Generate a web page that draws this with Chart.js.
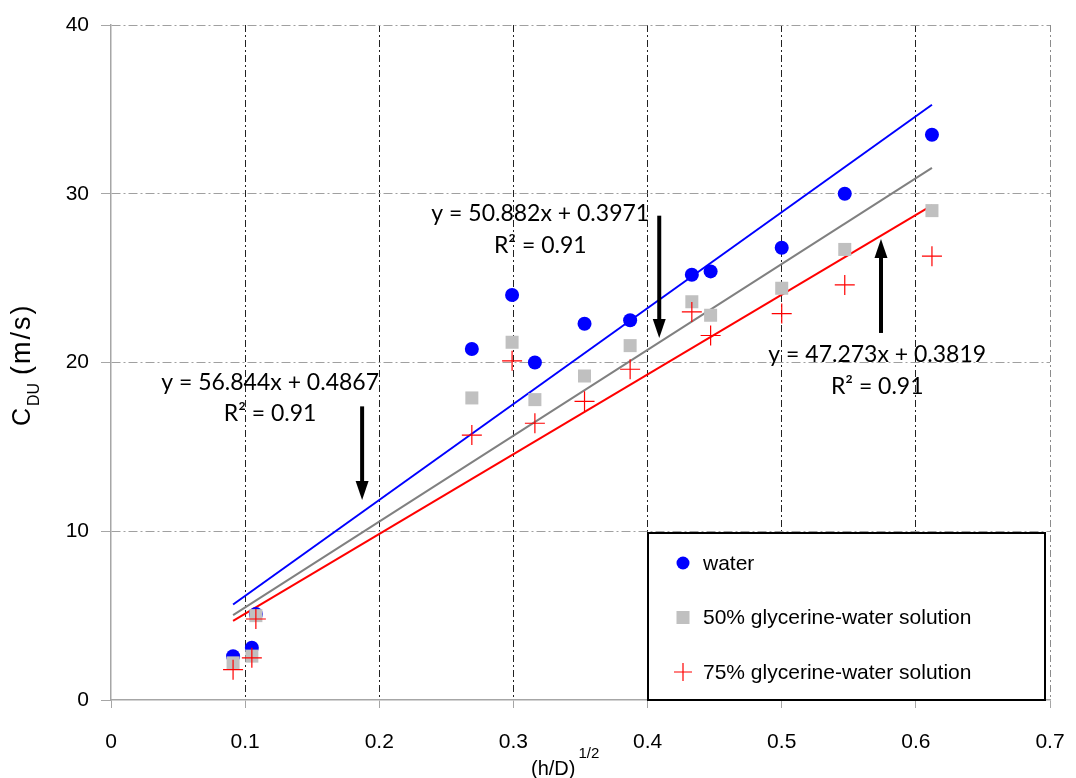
<!DOCTYPE html>
<html lang="en">
<head>
    <meta charset="UTF-8">
    <title>C_DU vs (h/D)^1/2</title>
    <script src="https://cdn.jsdelivr.net/npm/chart.js"></script>
    <style>
        html, body { margin: 0; padding: 0; background: #fff; }
        #wrap { width: 1076px; height: 778px; }
    </style>
</head>
<body>
<div id="wrap"><canvas id="chart" width="1076" height="778"></canvas></div>
<script>
// (h/D)^1/2 values shared by the three series
const sqrtHD = [0.091, 0.105, 0.108, 0.269, 0.299, 0.316, 0.353, 0.387, 0.433, 0.447, 0.500, 0.547, 0.612];
const water = [2.6, 3.1, 5.1, 20.8, 24.0, 20.0, 22.3, 22.5, 25.2, 25.4, 26.8, 30.0, 33.5];
const glyc50 = [2.2, 2.6, 5.0, 17.9, 21.2, 17.8, 19.2, 21.0, 23.6, 22.8, 24.4, 26.7, 29.0];
const glyc75 = [1.8, 2.5, 4.8, 15.7, 20.1, 16.4, 17.7, 19.6, 23.0, 21.6, 22.9, 24.6, 26.3];

const seriesNames = ["water", "50% glycerine-water solution", "75% glycerine-water solution"];
const trendSlopes = [56.844, 50.882, 47.273];
const trendIntercepts = [0.4867, 0.3971, 0.3819];
const trendR2 = ["0.91", "0.91", "0.91"];

const xTicks = [0, 0.1, 0.2, 0.3, 0.4, 0.5, 0.6, 0.7];
const yTicks = [0, 10, 20, 30, 40];

const colors = ["#0000ff", "#c0c0c0", "#ff0000"];
const lineColors = ["#0000ff", "#808080", "#ff0000"];

const toPoints = (ys) => sqrtHD.map((x, i) => ({ x, y: ys[i] }));
const xMin = Math.min(...sqrtHD), xMax = Math.max(...sqrtHD);
const trendPoints = (k) => [xMin, xMax].map(x => ({ x, y: trendSlopes[k] * x + trendIntercepts[k] }));

const AXIS_GRAY = "#a6a6a6";
const ARIAL = "'Liberation Sans', Arial, sans-serif";
const EQ_FONT = "Lato, 'Open Sans', sans-serif";

// equation labels and arrows, anchored in data coordinates
const equationSpots = [
    { x: 0.1186, y: 18.8, r2y: 16.95, arrow: [0.1872, 17.4, 11.85] },
    { x: 0.320, y: 28.8, r2y: 26.95, arrow: [0.4087, 28.7, 21.45] },
    { x: 0.5712, y: 20.45, r2y: 18.6, arrow: [0.574, 21.75, 27.32] },
];

const drawArrow = (ctx, x, y1, y2) => {
    const dir = y2 > y1 ? 1 : -1;
    const headLen = 19, headHalf = 6.5;
    ctx.save();
    ctx.strokeStyle = "#000";
    ctx.fillStyle = "#000";
    ctx.lineWidth = 4;
    ctx.beginPath();
    ctx.moveTo(x, y1);
    ctx.lineTo(x, y2 - dir * headLen);
    ctx.stroke();
    ctx.beginPath();
    ctx.moveTo(x, y2);
    ctx.lineTo(x - headHalf, y2 - dir * headLen);
    ctx.lineTo(x + headHalf, y2 - dir * headLen);
    ctx.closePath();
    ctx.fill();
    ctx.restore();
};

const extrasPlugin = {
    id: "extras",
    afterDraw(chart) {
        const { ctx, scales: { x, y } } = chart;

        // equations + arrows
        ctx.save();
        ctx.fillStyle = "#000";
        ctx.textAlign = "center";
        ctx.textBaseline = "middle";
        ctx.font = "23px " + EQ_FONT;
        equationSpots.forEach((s, k) => {
            const eq = `y = ${trendSlopes[k]}x + ${trendIntercepts[k]}`;
            ctx.fillText(eq, x.getPixelForValue(s.x), y.getPixelForValue(s.y));
            ctx.fillText(`R² = ${trendR2[k]}`, x.getPixelForValue(s.x), y.getPixelForValue(s.r2y));
            const [ax, ay1, ay2] = s.arrow;
            drawArrow(ctx, x.getPixelForValue(ax), y.getPixelForValue(ay1), y.getPixelForValue(ay2));
        });
        ctx.restore();

        // legend box
        const lx = 648, ly = 533, lw = 397, lh = 167;
        ctx.save();
        ctx.fillStyle = "#fff";
        ctx.fillRect(lx, ly, lw, lh);
        ctx.strokeStyle = "#000";
        ctx.lineWidth = 2;
        ctx.strokeRect(lx, ly, lw, lh);
        ctx.font = "21px " + ARIAL;
        ctx.textAlign = "left";
        ctx.textBaseline = "middle";
        seriesNames.forEach((name, i) => {
            const cy = ly + 30 + i * 54.5;
            const cx = lx + 35;
            if (i === 0) {
                ctx.fillStyle = colors[0];
                ctx.beginPath();
                ctx.arc(cx, cy, 6.5, 0, Math.PI * 2);
                ctx.fill();
            } else if (i === 1) {
                ctx.fillStyle = colors[1];
                ctx.fillRect(cx - 6.5, cy - 6.5, 13, 13);
            } else {
                ctx.strokeStyle = colors[2];
                ctx.lineWidth = 1.2;
                ctx.beginPath();
                ctx.moveTo(cx - 9, cy); ctx.lineTo(cx + 9, cy);
                ctx.moveTo(cx, cy - 9); ctx.lineTo(cx, cy + 9);
                ctx.stroke();
            }
            ctx.fillStyle = "#000";
            ctx.fillText(name, lx + 55, cy + 1);
        });
        ctx.restore();

        // x axis title with superscript
        ctx.save();
        ctx.fillStyle = "#000";
        ctx.textBaseline = "alphabetic";
        ctx.textAlign = "left";
        ctx.font = "20px " + ARIAL;
        const tx = 531, tyBase = 775;
        ctx.fillText("(h/D)", tx, tyBase);
        const w = ctx.measureText("(h/D)").width;
        ctx.font = "15px " + ARIAL;
        ctx.fillText("1/2", tx + w + 3, tyBase - 17);
        ctx.restore();

        // y axis title with subscript, rotated
        ctx.save();
        ctx.translate(30, 426);
        ctx.rotate(-Math.PI / 2);
        ctx.fillStyle = "#000";
        ctx.textBaseline = "alphabetic";
        ctx.textAlign = "left";
        ctx.font = "25px " + ARIAL;
        ctx.fillText("C", 0, 0);
        ctx.font = "16px " + ARIAL;
        ctx.fillText("DU", 20, 9);
        ctx.font = "27px " + ARIAL;
        ctx.letterSpacing = "2px";
        ctx.fillText("(m/s)", 51, 0);
        ctx.restore();
    }
};

const ctx = document.getElementById("chart").getContext("2d");
new Chart(ctx, {
    type: "scatter",
    data: {
        datasets: [
            {
                label: seriesNames[2], data: toPoints(glyc75), order: 0,
                pointStyle: "cross", pointRadius: 10, borderColor: colors[2], backgroundColor: colors[2],
                borderWidth: 1.2, pointHoverRadius: 10,
            },
            {
                label: seriesNames[1], data: toPoints(glyc50), order: 1,
                pointStyle: "rect", pointRadius: 9.2, borderWidth: 0, backgroundColor: colors[1], borderColor: colors[1],
            },
            {
                label: seriesNames[0], data: toPoints(water), order: 2,
                pointStyle: "circle", pointRadius: 7, borderWidth: 0, backgroundColor: colors[0], borderColor: colors[0],
            },
            ...[0, 1, 2].map(k => ({
                label: "trend " + seriesNames[k], data: trendPoints(k), order: 3,
                showLine: true, pointRadius: 0, borderColor: lineColors[k], borderWidth: 2, fill: false,
            })),
        ],
    },
    options: {
        responsive: false,
        devicePixelRatio: 1,
        animation: false,
        events: [],
        layout: { padding: { left: 0, top: 25, right: 26, bottom: 0 } },
        plugins: { legend: { display: false }, tooltip: { enabled: false } },
        scales: {
            x: {
                type: "linear", min: 0, max: 0.7,
                afterBuildTicks: (s) => { s.ticks = xTicks.map(v => ({ value: v })); },
                afterFit: (s) => { s.height = 78; s.paddingLeft = 0; s.paddingRight = 0; },
                ticks: {
                    color: "#000", padding: 22,
                    font: { family: ARIAL, size: 21 },
                    callback: (v) => String(v),
                },
                grid: {
                    color: (c) => c.tick && c.tick.value === 0 ? "rgba(0,0,0,0)" : (c.tick && c.tick.value === 0.7 ? "#8c8c8c" : "#222"),
                    lineWidth: 1,
                    tickColor: AXIS_GRAY, tickLength: 8,
                },
                border: { display: true, color: AXIS_GRAY, width: 1.5, dash: [7, 3, 2, 3] },
            },
            y: {
                type: "linear", min: 0, max: 40,
                afterBuildTicks: (s) => { s.ticks = yTicks.map(v => ({ value: v })); },
                afterFit: (s) => { s.width = 111; s.paddingTop = 0; s.paddingBottom = 0; },
                ticks: {
                    color: "#000", padding: 12,
                    font: { family: ARIAL, size: 21 },
                },
                grid: {
                    color: (c) => c.tick && c.tick.value === 0 ? "rgba(0,0,0,0)" : "#a0a0a0",
                    lineWidth: 1,
                    tickColor: AXIS_GRAY, tickLength: 10,
                },
                border: { display: true, color: AXIS_GRAY, width: 1.5, dash: [9, 3, 2, 3] },
            },
        },
    },
    plugins: [extrasPlugin],
});
</script>
</body>
</html>
